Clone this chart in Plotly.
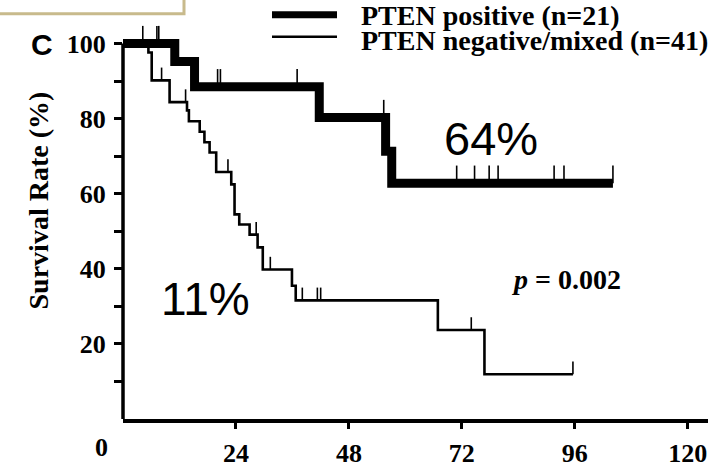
import plotly.graph_objects as go

# ---------------- data ----------------
# PTEN positive (n=21): step times (months) and survival (%) after each step
pos_time = [0, 11.0, 15.2, 41.7, 55.8, 57.1, 104.1]
pos_surv = [100, 95.2, 88.5, 80.3, 71.3, 62.8, 62.8]
pos_censored = [4.2, 7.2, 7.6, 20.1, 20.7, 37.0, 55.4, 70.9, 74.7, 77.8, 79.7, 91.6, 93.7, 104.1]

# PTEN negative/mixed (n=41)
neg_time = [0, 5.4, 6.1, 9.9, 13.6, 14.0, 16.3, 17.3, 18.4, 19.8, 23.0, 23.7, 24.7,
            26.9, 28.6, 29.7, 35.9, 36.7, 66.9, 76.8, 95.6]
neg_surv = [100, 97.6, 90.2, 84.4, 82.2, 79.3, 76.5, 73.7, 71.0, 65.8, 62.5, 54.5, 51.8,
            49.1, 45.7, 39.8, 35.5, 31.6, 23.7, 11.9, 11.9]
neg_censored = [8.2, 13.3, 22.3, 28.3, 31.3, 38.1, 41.3, 42.0, 74.0, 95.6]

x_tickvals = [24, 48, 72, 96, 120]
x_ticktext = ["24", "48", "72", "96", "120"]
y_tickvals = [10, 20, 30, 40, 50, 60, 70, 80, 90, 100]
y_ticktext = ["", "20", "", "40", "", "60", "", "80", "", "100"]

legend_labels = ["PTEN positive (n=21)", "PTEN negative/mixed (n=41)"]
pos_label_text = "64%"
neg_label_text = "11%"
p_text = "<i>p</i> = 0.002"


def step_value(times, surv, t):
    v = surv[0]
    for ti, si in zip(times, surv):
        if ti <= t:
            v = si
    return v


# ---------------- geometry helpers ----------------
W, H = 722, 474
L, R, T, B = 123, 708, 6, 435
X_MAX = 124.3
Y_MAX = 110


def px(xp):
    return (xp - L) / (R - L)


def py(yp):
    return (B - yp) / (B - T)


serif = "Liberation Serif"
fig = go.Figure()

# negative/mixed curve (thin)
fig.add_trace(go.Scatter(x=neg_time, y=neg_surv, mode="lines", line=dict(shape="hv", color="black", width=2.6),
                         showlegend=False, hoverinfo="skip"))
fig.add_trace(go.Scatter(x=neg_censored, y=[step_value(neg_time, neg_surv, t) for t in neg_censored],
                         mode="markers", marker=dict(size=1, color="rgba(0,0,0,0)"),
                         error_y=dict(type="data", symmetric=False, array=[3.4] * len(neg_censored),
                                      arrayminus=[0] * len(neg_censored), width=0, thickness=1.6, color="black"),
                         showlegend=False, hoverinfo="skip"))

# positive curve (thick)
fig.add_trace(go.Scatter(x=pos_time, y=pos_surv, mode="lines", line=dict(shape="hv", color="black", width=9),
                         showlegend=False, hoverinfo="skip"))
fig.add_trace(go.Scatter(x=pos_censored, y=[step_value(pos_time, pos_surv, t) for t in pos_censored],
                         mode="markers", marker=dict(size=1, color="rgba(0,0,0,0)"),
                         error_y=dict(type="data", symmetric=False, array=[4.7] * len(pos_censored),
                                      arrayminus=[0] * len(pos_censored), width=0, thickness=1.6, color="black"),
                         showlegend=False, hoverinfo="skip"))

tickfont = dict(family=serif, size=26, color="black", weight="bold")

fig.update_layout(
    width=W, height=H,
    margin=dict(l=L, r=W - R, t=T, b=H - B),
    paper_bgcolor="white", plot_bgcolor="white",
    xaxis=dict(range=[0, X_MAX], showgrid=False, zeroline=False, showline=True, linecolor="black", linewidth=3.5,
               ticks="outside", ticklen=6, tickwidth=3, tickcolor="black", ticklabelstandoff=2,
               tickvals=x_tickvals, ticktext=x_ticktext, tickfont=tickfont),
    yaxis=dict(range=[0, Y_MAX], showgrid=False, zeroline=False, showline=False,
               ticks="outside", ticklen=8, tickwidth=3, tickcolor="black", ticklabelstandoff=3,
               tickvals=y_tickvals, ticktext=y_ticktext, tickfont=tickfont),
    showlegend=False,
)

shapes = []
# y axis line from 0 to 100
shapes.append(dict(type="line", xref="paper", yref="y", x0=0, x1=0, y0=0, y1=100,
                   line=dict(color="black", width=3.5)))
# legend samples
shapes.append(dict(type="line", xref="paper", yref="paper", x0=px(272), x1=px(337), y0=py(15), y1=py(15),
                   line=dict(color="black", width=7)))
shapes.append(dict(type="line", xref="paper", yref="paper", x0=px(272), x1=px(337), y0=py(38), y1=py(38),
                   line=dict(color="black", width=2.5)))
# beige frame at top-left
shapes.append(dict(type="rect", xref="paper", yref="paper", x0=px(-10), x1=px(184), y0=py(14), y1=py(-10),
                   line=dict(color="rgb(200,186,140)", width=3), fillcolor="rgba(0,0,0,0)"))
fig.update_layout(shapes=shapes)

ann = []
legfont = dict(family=serif, size=28, color="black", weight="bold")
ann.append(dict(xref="paper", yref="paper", x=px(359), y=py(16), text=legend_labels[0], showarrow=False,
                xanchor="left", yanchor="middle", font=legfont))
ann.append(dict(xref="paper", yref="paper", x=px(359), y=py(42), text=legend_labels[1], showarrow=False,
                xanchor="left", yanchor="middle", font=legfont))
ann.append(dict(xref="paper", yref="paper", x=px(491), y=py(144), text=pos_label_text, showarrow=False,
                xanchor="center", yanchor="middle", font=dict(family="Liberation Sans", size=47, color="black")))
ann.append(dict(xref="paper", yref="paper", x=px(205), y=py(310), text=neg_label_text, showarrow=False,
                xanchor="center", yanchor="middle", font=dict(family="Liberation Sans", size=46, color="black")))
ann.append(dict(xref="paper", yref="paper", x=px(566), y=py(290), text=p_text, showarrow=False,
                xanchor="center", yanchor="middle", font=dict(family=serif, size=28, color="black", weight="bold")))
ann.append(dict(xref="paper", yref="paper", x=px(38), y=py(208), text="Survival Rate (%)", showarrow=False,
                textangle=-90, xanchor="center", yanchor="middle",
                font=dict(family=serif, size=28, color="black", weight="bold")))
ann.append(dict(xref="paper", yref="paper", x=px(101), y=py(465), text="0", showarrow=False,
                xanchor="center", yanchor="middle", font=tickfont))
ann.append(dict(xref="paper", yref="paper", x=px(42), y=py(46), text="C", showarrow=False,
                xanchor="center", yanchor="middle",
                font=dict(family="Liberation Sans", size=30, color="black", weight="bold")))
fig.update_layout(annotations=ann)

fig.write_html("out.html")
